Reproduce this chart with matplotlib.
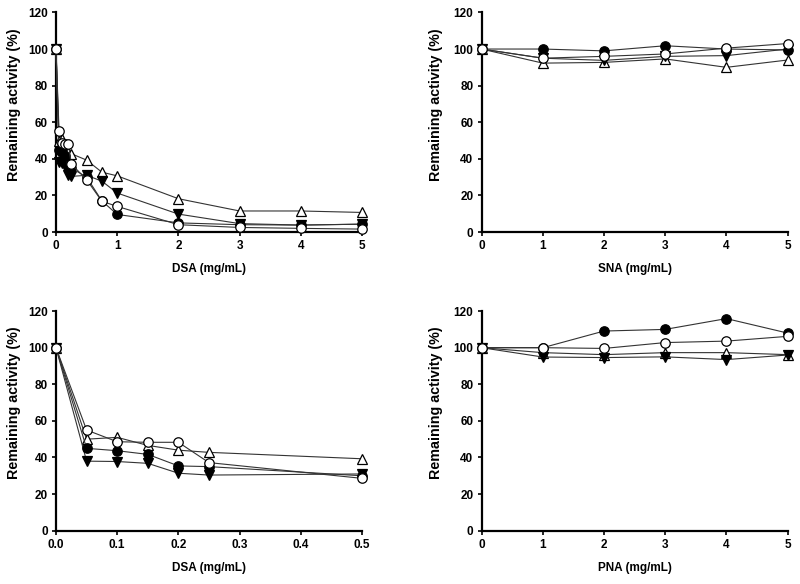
import matplotlib.pyplot as plt
import numpy as np

plt.rcParams['font.family'] = ['Liberation Sans', 'DejaVu Sans']
plt.rcParams['font.weight'] = 'bold'

#%% Data
# DSA, 0 - 5 mg/mL (top left)
dsa_x = [0, 0.05, 0.1, 0.15, 0.2, 0.25, 0.5, 0.75, 1, 2, 3, 4, 5]
dsa_fill_circ = [100, 45, 43.7, 41.7, 35.4, 35, 30, 17, 9.6, 5, 4, 3.8, 4.3]
dsa_open_circ = [100, 55, 48.6, 48.3, 48.3, 37.2, 28.6, 16.8, 14, 4, 2.5, 2, 1.6]
dsa_down_tri = [100, 38, 37.8, 36.8, 31.4, 30.4, 31, 27.8, 21.3, 9.8, 4.6, 3.8, 4.3]
dsa_up_tri = [100, 50, 51, 46.6, 44, 42.8, 39.3, 32.7, 30.7, 18.2, 11.5, 11.5, 10.7]

# DSA zoomed, 0 - 0.5 mg/mL (bottom left)
low_x = [0, 0.05, 0.1, 0.15, 0.2, 0.25, 0.5]
low_fill_circ = [100, 45, 43.7, 41.7, 35.4, 35, 30]
low_open_circ = [100, 55, 48.6, 48.3, 48.3, 37.2, 28.6]
low_down_tri = [100, 38, 37.8, 36.8, 31.4, 30.4, 31]
low_up_tri = [100, 50, 51, 46.6, 44, 42.8, 39.3]

# SNA (top right)
sna_x = [0, 1, 2, 3, 4, 5]
sna_fill_circ = [100, 100, 99, 101.8, 100, 99.5]
sna_open_circ = [100, 95, 96, 97.3, 100.5, 103]
sna_down_tri = [100, 95, 93.8, 96, 96.4, 100]
sna_up_tri = [100, 92.3, 92.7, 94.6, 90, 94]

# PNA (bottom right)
pna_x = [0, 1, 2, 3, 4, 5]
pna_fill_circ = [100, 100, 109.1, 110, 115.9, 108]
pna_open_circ = [100, 100, 99.6, 102.8, 103.6, 106.2]
pna_down_tri = [100, 94.9, 94.6, 95, 93.5, 96]
pna_up_tri = [100, 97.3, 96.2, 97.3, 97.3, 96.2]

#%% Plot
def panel(ax, x, fc, oc, dt, ut, xlabel, xticks, xticklabels, ylab_x):
    kw = dict(color="#333333", lw=0.8, markersize=6.8, markeredgecolor="black",
              markeredgewidth=0.9, clip_on=False)
    ax.plot(x, ut, marker="^", markerfacecolor="white", zorder=3, **kw)
    ax.plot(x, dt, marker="v", markerfacecolor="black", zorder=4, **kw)
    ax.plot(x, oc, marker="o", markerfacecolor="white", zorder=5, **kw)
    ax.plot(x, fc, marker="o", markerfacecolor="black", zorder=4, **kw)
    ax.set_xlim(xticks[0], xticks[-1])
    ax.set_ylim(0, 120)
    ax.set_xticks(xticks)
    ax.set_xticklabels(xticklabels)
    ax.set_yticks(np.arange(0, 121, 20))
    ax.spines["top"].set_visible(False)
    ax.spines["right"].set_visible(False)
    ax.spines["left"].set_linewidth(1.6)
    ax.spines["bottom"].set_linewidth(1.6)
    ax.tick_params(direction="out", length=3, width=1.2, labelsize=8.5, pad=3)
    for lab in ax.get_xticklabels() + ax.get_yticklabels():
        lab.set_fontweight("bold")
    ax.set_xlabel(xlabel, fontsize=8.5, fontweight="bold", labelpad=8)
    ax.set_ylabel("Remaining activity (%)", fontsize=10.3, fontweight="bold")
    ax.yaxis.set_label_coords(ylab_x, 0.582)

fig = plt.figure(figsize=(8, 5.84), dpi=100)
w, h = 0.3825, 0.376
ax1 = fig.add_axes([0.07, 0.6027, w, h])
ax2 = fig.add_axes([0.602, 0.6027, w, h])
ax3 = fig.add_axes([0.07, 0.0913, w, h])
ax4 = fig.add_axes([0.602, 0.0913, w, h])

int_ticks = [0, 1, 2, 3, 4, 5]
int_labels = [str(t) for t in int_ticks]
low_ticks = [0, 0.1, 0.2, 0.3, 0.4, 0.5]
low_labels = ["%.1f" % t for t in low_ticks]

panel(ax1, dsa_x, dsa_fill_circ, dsa_open_circ, dsa_down_tri, dsa_up_tri,
      "DSA (mg/mL)", int_ticks, int_labels, -0.115)
panel(ax2, sna_x, sna_fill_circ, sna_open_circ, sna_down_tri, sna_up_tri,
      "SNA (mg/mL)", int_ticks, int_labels, -0.127)
panel(ax3, low_x, low_fill_circ, low_open_circ, low_down_tri, low_up_tri,
      "DSA (mg/mL)", low_ticks, low_labels, -0.115)
panel(ax4, pna_x, pna_fill_circ, pna_open_circ, pna_down_tri, pna_up_tri,
      "PNA (mg/mL)", int_ticks, int_labels, -0.127)

fig.savefig("out.png", dpi=100)
